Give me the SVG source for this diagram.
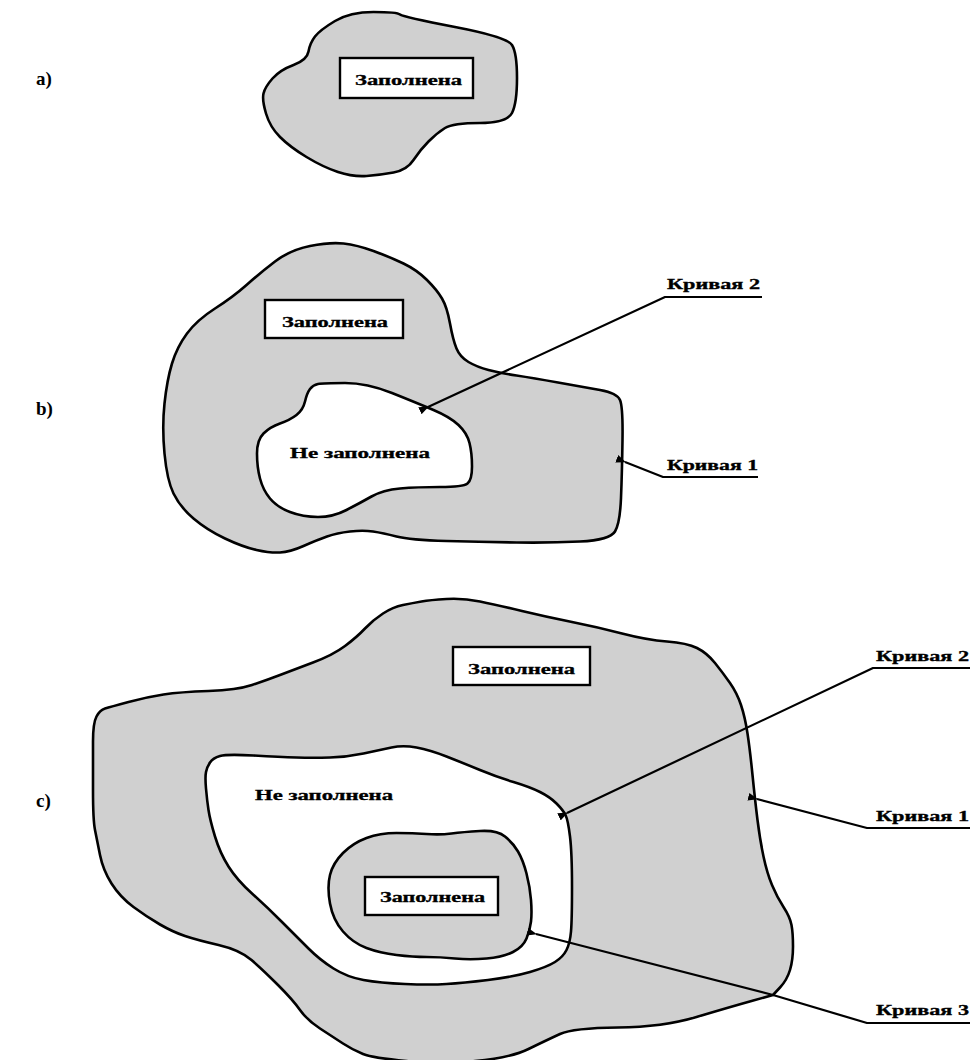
<svg xmlns="http://www.w3.org/2000/svg" width="974" height="1060" viewBox="0 0 974 1060">
<defs>
<style>
.region{fill:#d0d0d0;stroke:#000;stroke-width:2.6;stroke-linejoin:round}
.hole{fill:#fff;stroke:#000;stroke-width:2.6;stroke-linejoin:round}
.box{fill:#fff;stroke:#000;stroke-width:2.4}
.t{font-family:"Liberation Serif","Times New Roman",serif;font-weight:bold;font-size:15.5px;fill:#000;stroke:#000;stroke-width:0.35}
.lbl{font-family:"Liberation Serif","Times New Roman",serif;font-weight:bold;font-size:19px;fill:#000}
.lead{fill:none;stroke:#000;stroke-width:2.2;stroke-linejoin:round}
</style>
<marker id="arr" viewBox="0 0 10 10" refX="1" refY="5" markerWidth="4.5" markerHeight="4.5" orient="auto-start-reverse" markerUnits="strokeWidth">
<path d="M0,5 L10,1 L10,9 Z" fill="#000"/>
</marker>
</defs>
<rect width="974" height="1060" fill="#fff"/>

<text class="lbl" x="36" y="85">a)</text>
<text class="lbl" x="36" y="415">b)</text>
<text class="lbl" x="36" y="807">c)</text>

<g id="a-region">
<path class="region" d="M315,36.5 Q320,30 335,21 Q350,12 373.5,12 Q397,12 400,14.5 Q403,17 455,27 Q507,37 512,45 Q517,53 517,78 Q517,103 512,113 Q507,123 480,123 Q453,123 445,128 Q437,133 428.5,141.5 Q420,150 413.5,160 Q407,170 393.5,172.5 Q380,175 366.5,176 Q353,177 338,172 Q323,167 306.5,157 Q290,147 280,137 Q270,127 266,113.5 Q262,100 263.5,93.5 Q265,87 272.5,78.5 Q280,70 293.5,65 Q307,60 308.5,51.5 Q310,43 315,36.5 Z"/>
<rect class="box" x="340" y="58" width="133" height="40"/>
<text class="t" x="355" y="84.5" textLength="107" lengthAdjust="spacingAndGlyphs">Заполнена</text>
</g>

<g id="b-curve1">
<path class="region" d="M310,246 Q330,242 343.5,243.5 Q357,245 373.5,251 Q390,257 403.5,263.5 Q417,270 427,280 Q437,290 442,298.5 Q447,307 450,323.5 Q453,340 456.5,348.5 Q460,357 468.5,362 Q477,367 488.5,370 Q500,373 516.5,375.5 Q533,378 558,382.5 Q583,387 600,390 Q617,393 620,400 Q623,407 622.5,440 Q622,473 621,498 Q620,523 615,531.5 Q610,540 580,541.5 Q550,543 516.5,542.5 Q483,542 446.5,541 Q410,540 396.5,536.5 Q383,533 373,531.5 Q363,530 350,531.5 Q337,533 327,536.5 Q317,540 303.5,546 Q290,552 280,552.5 Q270,553 256.5,550 Q243,547 225,538.5 Q207,530 193.5,518.5 Q180,507 173.5,493.5 Q167,480 164.5,453.5 Q162,427 164.5,403.5 Q167,380 172,363.5 Q177,347 187,333.5 Q197,320 215,308.5 Q233,297 246.5,285 Q260,273 275,261.5 Q290,250 310,246 Z"/>
<rect class="box" x="265" y="300" width="138" height="38"/>
<text class="t" x="282" y="327" textLength="106" lengthAdjust="spacingAndGlyphs">Заполнена</text>
</g>
<g id="b-curve2">
<path class="hole" d="M310,389 Q313,385 318,384 Q323,383 345,383 Q367,383 392,393 Q417,403 433.5,410 Q450,417 458.5,425 Q467,433 469.5,443 Q472,453 472,466.5 Q472,480 467.5,483.5 Q463,487 440,487 Q417,487 400,488.5 Q383,490 371.5,496.5 Q360,503 346.5,510 Q333,517 318,517 Q303,517 290,512 Q277,507 270,498.5 Q263,490 260,478.5 Q257,467 257,453.5 Q257,440 263.5,433.5 Q270,427 280,423.5 Q290,420 296.5,415 Q303,410 305,401.5 Q307,393 310,389 Z"/>
<text class="t" x="290" y="458" textLength="140" lengthAdjust="spacingAndGlyphs">Не заполнена</text>
</g>

<g id="c-curve1">
<path class="region" d="M93,741.5 Q93,723 96.5,716.5 Q100,710 105,708.5 Q110,707 128.5,702 Q147,697 163.5,694.5 Q180,692 208.5,691 Q237,690 252,685 Q267,680 280,675 Q293,670 313,662.5 Q333,655 345,646 Q357,637 365,628.5 Q373,620 383,613.5 Q393,607 403,605 Q413,603 421.5,601.5 Q430,600 446.5,599 Q463,598 480,601.5 Q497,605 522,611 Q547,617 572,622 Q597,627 622,633.5 Q647,640 667,641.5 Q687,643 697,648 Q707,653 715,663 Q723,673 730,683 Q737,693 741,705 Q745,717 747.5,733.5 Q750,750 752.5,775 Q755,800 757.5,820 Q760,840 763.5,856.5 Q767,873 772,885 Q777,897 783.5,907 Q790,917 791.5,925 Q793,933 793,946.5 Q793,960 790,970 Q787,980 780,987.5 L773,995 L751.5,1001 Q730,1007 696.5,1017 Q663,1027 618,1027.5 Q573,1028 560,1034 Q547,1040 528.5,1049 Q510,1058 475,1061 Q440,1064 406.5,1061 Q373,1058 363,1054 Q353,1050 343,1043.5 Q333,1037 320,1028.5 Q307,1020 300,1010 Q293,1000 278,985 Q263,970 251.5,960 Q240,950 218.5,945 Q197,940 185,936 Q173,932 160,924.5 Q147,917 133.5,907 Q120,897 111.5,883.5 Q103,870 100,855 Q97,840 95,830 Q93,820 93,790 Q93,760 93,741.5 Z"/>
<rect class="box" x="453" y="647" width="137" height="38"/>
<text class="t" x="468" y="674" textLength="107" lengthAdjust="spacingAndGlyphs">Заполнена</text>
</g>
<g id="c-curve2">
<path class="hole" d="M206,772 Q207,767 210,762.5 Q213,758 220,756 Q227,754 253.5,755.5 Q280,757 296.5,757.5 Q313,758 330,757.5 Q347,757 363.5,753.5 Q380,750 391.5,747.5 Q403,745 416.5,747.5 Q430,750 446.5,756.5 Q463,763 480,770 Q497,777 513.5,782 Q530,787 540,792 Q550,797 556.5,803.5 Q563,810 565.5,815 Q568,820 570,836.5 Q572,853 572,886.5 Q572,920 571,931.5 Q570,943 566.5,950 Q563,957 555,962 Q547,967 530,972 Q513,977 488,980 Q463,983 446.5,984 Q430,985 405,984 Q380,983 363.5,980 Q347,977 333.5,968.5 Q320,960 308.5,948.5 Q297,937 282,922 Q267,907 252,893.5 Q237,880 228.5,866.5 Q220,853 215,836.5 Q210,820 208.5,810 Q207,800 206,788.5 Q205,777 206,772 Z"/>
<text class="t" x="255" y="800" textLength="138" lengthAdjust="spacingAndGlyphs">Не заполнена</text>
</g>
<g id="c-curve3">
<path class="region" d="M366.5,838 Q380,833 396.5,833 Q413,833 426.5,834 Q440,835 451.5,833.5 Q463,832 480,831 Q497,830 505,836.5 Q513,843 518,851.5 Q523,860 526.5,873.5 Q530,887 531,900 Q532,913 531,921.5 Q530,930 526.5,938.5 Q523,947 513,952 Q503,957 486.5,958.5 Q470,960 455,958.5 Q440,957 426.5,957 Q413,957 396.5,955 Q380,953 366.5,948 Q353,943 343,931.5 Q333,920 330,903.5 Q327,887 330,875 Q333,863 343,853 Q353,843 366.5,838 Z"/>
<rect class="box" x="365" y="877" width="133" height="38"/>
<text class="t" x="380" y="902" textLength="105" lengthAdjust="spacingAndGlyphs">Заполнена</text>
</g>

<g id="connectors">
<polyline class="lead" marker-start="url(#arr)" points="428,407 665,297 762,297"/>
<polyline class="lead" marker-start="url(#arr)" points="625,462 663,477 758,477"/>
<polyline class="lead" marker-start="url(#arr)" points="567,813 873,668 970,668"/>
<polyline class="lead" marker-start="url(#arr)" points="757,799 867,828 970,828"/>
<polyline class="lead" marker-start="url(#arr)" points="536,934 773,995 867,1023 970,1023"/>
</g>

<g id="labels">
<text class="t" x="667" y="289" textLength="93" lengthAdjust="spacingAndGlyphs">Кривая 2</text>
<text class="t" x="667" y="470" textLength="91" lengthAdjust="spacingAndGlyphs">Кривая 1</text>
<text class="t" x="876" y="661" textLength="93" lengthAdjust="spacingAndGlyphs">Кривая 2</text>
<text class="t" x="876" y="821" textLength="93" lengthAdjust="spacingAndGlyphs">Кривая 1</text>
<text class="t" x="876" y="1015" textLength="93" lengthAdjust="spacingAndGlyphs">Кривая 3</text>
</g>
</svg>
